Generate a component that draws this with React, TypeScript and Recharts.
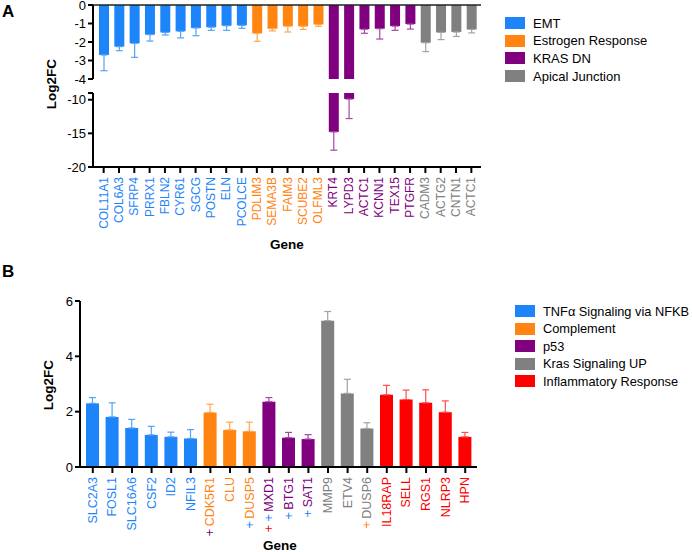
import { BarChart, Bar, XAxis, YAxis, ErrorBar, Cell, ReferenceLine } from 'recharts'

const FONT = 'Arial, "Liberation Sans", Helvetica, sans-serif'

// panel A
const groupsA = ['EMT', 'Estrogen Response', 'KRAS DN', 'Apical Junction']
const colorsA = ['#1E84FA', '#FF8411', '#800080', '#808080']
const whiskerA = ['#55A2F7', '#FFA54D', '#A548A5', '#A3A3A3']
const genesA = ['COL11A1', 'COL6A3', 'SFRP4', 'PRRX1', 'FBLN2', 'CYR61', 'SGCG', 'POSTN', 'ELN', 'PCOLCE',
  'PDLIM3', 'SEMA3B', 'FAIM3', 'SCUBE2', 'OLFML3',
  'KRT4', 'LYPD3', 'ACTC1', 'KCNN1', 'TEX15', 'PTGFR',
  'CADM3', 'ACTG2', 'CNTN1', 'ACTC1']
const groupOfA = [0, 0, 0, 0, 0, 0, 0, 0, 0, 0, 1, 1, 1, 1, 1, 2, 2, 2, 2, 2, 2, 3, 3, 3, 3]
const meanA = [-2.7, -2.25, -2.07, -1.6, -1.48, -1.42, -1.24, -1.2, -1.12, -1.1,
  -1.53, -1.28, -1.15, -1.15, -1.05,
  -14.78, -9.9, -1.31, -1.28, -1.14, -1.03,
  -2.04, -1.48, -1.46, -1.32]
const semA = [0.85, 0.22, 0.76, 0.35, 0.14, 0.36, 0.42, 0.17, 0.25, 0.16,
  0.43, 0.12, 0.31, 0.17, 0.1,
  2.72, 2.9, 0.22, 0.56, 0.23, 0.27,
  0.48, 0.39, 0.24, 0.19]
const ticksUpperA = [0, -1, -2, -3, -4]
const ticksLowerA = [-20, -15, -10, -9]

// panel B
const groupsB = ['TNFα Signaling via NFKB', 'Complement', 'p53', 'Kras Signaling UP', 'Inflammatory Response']
const colorsB = ['#1E84FA', '#FF8411', '#800080', '#808080', '#FF0000']
const whiskerB = ['#55A2F7', '#FFA54D', '#A548A5', '#A3A3A3', '#FF4D4D']
const genesB = ['SLC2A3', 'FOSL1', 'SLC16A6', 'CSF2', 'ID2', 'NFIL3', 'CDK5R1', 'CLU', 'DUSP5',
  'MXD1', 'BTG1', 'SAT1', 'MMP9', 'ETV4', 'DUSP6', 'IL18RAP', 'SELL', 'RGS1', 'NLRP3', 'HPN']
const groupOfB = [0, 0, 0, 0, 0, 0, 1, 1, 1, 2, 2, 2, 3, 3, 3, 4, 4, 4, 4, 4]
const meanB = [2.3, 1.81, 1.41, 1.16, 1.09, 1.03, 1.97, 1.34, 1.29, 2.36, 1.06, 1.01,
  5.29, 2.66, 1.39, 2.61, 2.44, 2.32, 1.98, 1.09]
const semB = [0.21, 0.51, 0.31, 0.31, 0.17, 0.32, 0.3, 0.28, 0.33, 0.15, 0.19, 0.16,
  0.33, 0.51, 0.21, 0.34, 0.34, 0.47, 0.41, 0.16]
// extra "+" marks before some gene names (group colour of each mark)
const plusB = [[], [], [], [], [], [], [2], [], [0], [4, 0], [0], [0], [], [], [1], [], [], [], [], []]
const ticksB = [0, 2, 4, 6]

const rowsA = genesA.map((gene, i) => ({
  gene,
  group: groupOfA[i],
  mean: meanA[i],
  sem: semA[i],
  low: meanA[i] < -9 ? meanA[i] : null,
}))

const rowsB = genesB.map((gene, i) => ({
  gene,
  group: groupOfB[i],
  mean: meanB[i],
  sem: semB[i],
}))

const axisStyle = { stroke: '#000', strokeWidth: 2 }
const yTick = { fill: '#000', fontSize: 13, fontFamily: FONT }

function GeneTick(props: any) {
  const { x, y, payload, rows, colors, plus, fontSize } = props
  const idx = payload.index ?? props.index
  const row = rows[idx]
  const marks: number[] = plus ? plus[idx] : []
  return (
    <text
      transform={`translate(${x},${y + 2}) rotate(-90)`}
      textAnchor="end"
      dominantBaseline="central"
      fontSize={fontSize}
      fontFamily={FONT}
    >
      {marks.map((g, k) => (
        <tspan key={k} fill={colors[g]}>{k < marks.length - 1 ? '+ ' : '+\u2009'}</tspan>
      ))}
      <tspan fill={colors[row.group]}>{row.gene}</tspan>
    </text>
  )
}

function LegendBox({ names, colors, left, top, step, fontSize }: any) {
  return (
    <div style={{ position: 'absolute', left, top }}>
      {names.map((n: string, i: number) => (
        <div key={n} style={{ position: 'absolute', top: i * step, left: 0, display: 'flex', alignItems: 'center', height: 12, whiteSpace: 'nowrap' }}>
          <div style={{ width: 20, height: 12, background: colors[i] }} />
          <span style={{ marginLeft: 8, fontSize, fontFamily: FONT, color: '#000' }}>{n}</span>
        </div>
      ))}
    </div>
  )
}

export default function App() {
  return (
    <div style={{ position: 'absolute', left: 0, top: 0, width: 692, height: 552, background: '#fff', overflow: 'hidden' }}>
      {/* A: upper segment 0..-4 */}
      <div style={{ position: 'absolute', left: 0, top: -10 }}>
        <BarChart width={500} height={100} data={rowsA} margin={{ top: 15, right: 19, bottom: 11, left: 0 }}>
          <XAxis dataKey="gene" hide padding={{ left: 3, right: 2 }} />
          <YAxis
            width={93}
            type="number"
            domain={[-4, 0]}
            ticks={ticksUpperA}
            allowDataOverflow
            interval={0}
            tick={yTick}
            tickSize={5}
            tickLine={axisStyle}
            axisLine={axisStyle}
          />
          <ReferenceLine y={0} stroke="#222" strokeWidth={1.5} />
          <Bar dataKey="mean" barSize={10} isAnimationActive={false}>
            {rowsA.map((r, i) => (
              <Cell key={i} fill={colorsA[r.group]} />
            ))}
            {groupsA.map((_, g) => (
              <ErrorBar
                key={g}
                dataKey={(r: any) => (r.group === g && r.mean > -4 ? [r.sem, 0] : null)}
                direction="y"
                width={3.5}
                strokeWidth={1.2}
                stroke={whiskerA[g]}
                isAnimationActive={false}
              />
            ))}
          </Bar>
        </BarChart>
      </div>

      {/* A: lower segment -9..-20 with gene axis */}
      <div style={{ position: 'absolute', left: 0, top: 0 }}>
        <BarChart width={500} height={260} data={rowsA} margin={{ top: 93, right: 19, bottom: 13, left: 0 }}>
          <XAxis
            dataKey="gene"
            interval={0}
            height={80}
            padding={{ left: 3, right: 2 }}
            tickSize={6}
            tickLine={axisStyle}
            axisLine={axisStyle}
            tick={<GeneTick rows={rowsA} colors={colorsA} fontSize={12} />}
          />
          <YAxis
            width={93}
            type="number"
            domain={[-20, -9]}
            ticks={ticksLowerA}
            allowDataOverflow
            interval={0}
            tickFormatter={(v: number) => (v === -9 ? '' : String(v))}
            tick={yTick}
            tickSize={5}
            tickLine={axisStyle}
            axisLine={axisStyle}
          />
          <Bar dataKey="low" barSize={10} isAnimationActive={false}>
            {rowsA.map((r, i) => (
              <Cell key={i} fill={colorsA[r.group]} />
            ))}
            {groupsA.map((_, g) => (
              <ErrorBar
                key={g}
                dataKey={(r: any) => (r.group === g && r.low != null ? [r.sem, 0] : null)}
                direction="y"
                width={3.5}
                strokeWidth={1.2}
                stroke={whiskerA[g]}
                isAnimationActive={false}
              />
            ))}
          </Bar>
        </BarChart>
      </div>

      {/* B */}
      <div style={{ position: 'absolute', left: 0, top: 285 }}>
        <BarChart width={692} height={267} data={rowsB} margin={{ top: 16, right: 215, bottom: 15, left: 0 }}>
          <XAxis
            dataKey="gene"
            interval={0}
            height={70}
            padding={{ left: 3, right: 2 }}
            tickSize={6}
            tickLine={axisStyle}
            axisLine={axisStyle}
            tick={<GeneTick rows={rowsB} colors={colorsB} plus={plusB} fontSize={12.5} />}
          />
          <YAxis
            width={80}
            type="number"
            domain={[0, 6]}
            ticks={ticksB}
            interval={0}
            tick={yTick}
            tickSize={5}
            tickLine={axisStyle}
            axisLine={axisStyle}
          />
          <Bar dataKey="mean" barSize={13} isAnimationActive={false}>
            {rowsB.map((r, i) => (
              <Cell key={i} fill={colorsB[r.group]} />
            ))}
            {groupsB.map((_, g) => (
              <ErrorBar
                key={g}
                dataKey={(r: any) => (r.group === g ? [0, r.sem] : null)}
                direction="y"
                width={3.5}
                strokeWidth={1.2}
                stroke={whiskerB[g]}
                isAnimationActive={false}
              />
            ))}
          </Bar>
        </BarChart>
      </div>

      <LegendBox names={groupsA} colors={colorsA} left={505} top={17} step={17.7} fontSize={13} />
      <LegendBox names={groupsB} colors={colorsB} left={515} top={305} step={17.5} fontSize={12.8} />

      <svg width={692} height={552} style={{ position: 'absolute', left: 0, top: 0, pointerEvents: 'none' }}>
        <g fontFamily={FONT} fontWeight="bold" fill="#000">
          <text x={2} y={17} fontSize={17}>A</text>
          <text x={2} y={277} fontSize={17}>B</text>
          <text transform="translate(51,84) rotate(-90)" textAnchor="middle" dominantBaseline="central" fontSize={13.5}>Log2FC</text>
          <text transform="translate(48,385) rotate(-90)" textAnchor="middle" dominantBaseline="central" fontSize={13.5}>Log2FC</text>
          <text x={287} y={244} textAnchor="middle" dominantBaseline="central" fontSize={13.5}>Gene</text>
          <text x={280} y={545} textAnchor="middle" dominantBaseline="central" fontSize={13.5}>Gene</text>
        </g>
      </svg>
    </div>
  )
}
